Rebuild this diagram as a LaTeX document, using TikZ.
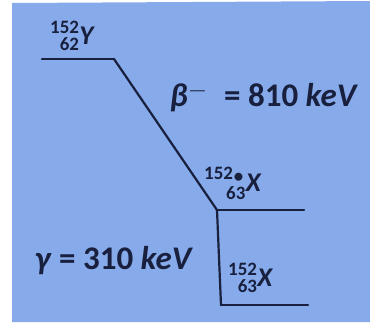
\documentclass[tikz,border=0pt]{standalone}
\usepackage{fontspec}
\usepackage{amsmath}
\usepackage{mathtools}
\setmainfont{Carlito}
\usetikzlibrary{positioning, calc}
\definecolor{slideblue}{RGB}{134,170,234}
\definecolor{inkblue}{RGB}{24,32,62}
\newcommand{\nuclide}[3]{$\prescript{\text{#1}}{\text{#2}}{\textit{#3}}$}
\tikzset{
  level/.style={line width=2.4pt, draw=inkblue, line cap=round},
  decay/.style={line width=2.2pt, draw=inkblue, line cap=round},
  energy/.style={text=inkblue, inner sep=0pt,
    font=\fontsize{33}{36}\selectfont\bfseries},
  nucl/.style={text=inkblue, inner sep=0pt,
    font=\fontsize{27}{29}\selectfont\bfseries},
}

\begin{document}
\begin{tikzpicture}[x=1pt, y=-1pt]
  \useasboundingbox (0,0) rectangle (370,322);
  \fill[white] (0,0) rectangle (370,322);
  \fill[slideblue] (12,3) -- (370,1) -- (370,322) -- (12,322) -- cycle;

  % energy levels
  \coordinate (parentL) at (42,59);
  \coordinate (parentR) at (114,59);
  \coordinate (excL)    at (217,210);
  \coordinate (excR)    at (304,210);
  \coordinate (groundL) at (221,305);
  \coordinate (groundR) at (308,305);

  \draw [level] (parentL) -- (parentR);
  \draw [level] (excL)    -- (excR);
  \draw [level] (groundL) -- (groundR);

  % transitions
  \draw [decay] (parentR) -- (excL);
  \draw [decay] (excL)    -- (groundL);

  % labels
  \node (parent) [nucl, anchor=south west] at (50,51) {\nuclide{152}{62}{Y}};
  \node (exc)    [nucl, anchor=south west] at (204,200) {\nuclide{152\kern1pt\raisebox{-0.35ex}{\textbullet}\kern2pt}{63}{X}};
  \node (ground) [nucl, anchor=south west] at (228,293) {\nuclide{152}{63}{X}};
  \node (beta)   [energy] at (264,97) {\textit{β}$^{-}$\enspace= 810 \textit{keV}};
  \node (gamma)  [energy] at (114,261) {\textit{γ} = 310 \textit{keV}};
\end{tikzpicture}
\end{document}
